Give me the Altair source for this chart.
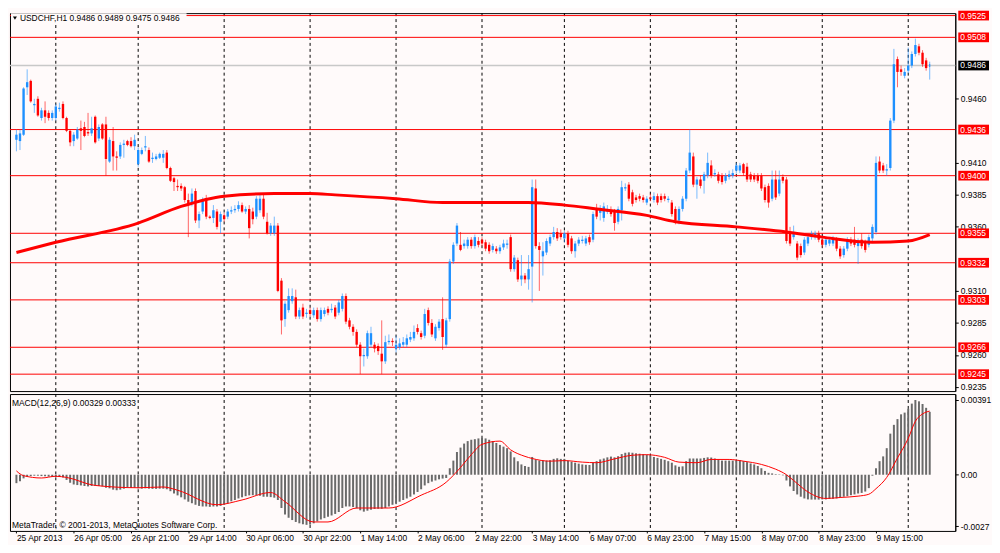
import altair as alt
import pandas as pd

# ---------------- data (prices in 1/10000) ----------------
bar_open = [
9428,9427,9432,9469,9474,9455,9460,9445,9451,9449,9445,9445,9452,9456,9445,9435,9427,9429,9437,9438,
9434,9433,9446,9429,9440,9440,9411,9427,9415,9415,9424,9427,9427,9423,9409,9417,9422,9420,9413,9413,
9414,9414,9418,9406,9398,9392,9392,9391,9381,9378,9388,9365,9372,9381,9368,9367,9372,9364,9369,9368,
9372,9373,9374,9377,9372,9374,9372,9368,9373,9382,9364,9355,9355,9361,9318,9288,9295,9302,9305,9290,
9297,9292,9295,9291,9295,9288,9292,9296,9295,9297,9293,9296,9306,9287,9282,9278,9268,9259,9259,9268,
9268,9267,9261,9255,9270,9271,9265,9266,9268,9268,9272,9273,9281,9277,9275,9295,9285,9273,9281,9288,
9268,9288,9333,9347,9346,9345,9345,9350,9345,9349,9350,9348,9346,9342,9343,9341,9344,9346,9352,9327,
9334,9319,9322,9319,9329,9390,9345,9337,9340,9347,9352,9356,9355,9351,9355,9351,9341,9347,9349,9347,
9352,9350,9374,9371,9367,9372,9373,9372,9364,9373,9390,9393,9387,9383,9384,9383,9379,9383,9381,9384,
9384,9384,9381,9379,9374,9365,9374,9382,9404,9415,9393,9397,9396,9400,9408,9401,9401,9400,9396,9399,
9400,9404,9404,9409,9407,9401,9400,9400,9400,9391,9392,9382,9397,9386,9399,9397,9356,9352,9347,9345,
9340,9347,9352,9352,9355,9350,9346,9347,9347,9350,9343,9338,9343,9350,9350,9345,9350,9348,9346,9351,
9356,9411,9408,9404,9406,9443,9491,9483,9478,9482,9486,9495,9501,9496,9490,9486]
bar_close = [
9432,9433,9468,9473,9458,9456,9447,9451,9446,9445,9449,9454,9453,9445,9435,9426,9432,9436,9435,9431,
9433,9437,9426,9438,9429,9413,9428,9415,9414,9424,9425,9424,9423,9428,9420,9420,9423,9411,9414,9415,
9417,9417,9406,9396,9395,9391,9390,9381,9378,9386,9365,9370,9381,9368,9367,9373,9360,9370,9366,9372,
9373,9374,9377,9372,9374,9359,9366,9382,9382,9368,9355,9361,9361,9310,9287,9300,9306,9306,9290,9295,
9290,9293,9292,9295,9288,9295,9295,9293,9296,9290,9301,9306,9286,9282,9278,9268,9259,9260,9277,9277,
9265,9263,9255,9270,9271,9270,9268,9269,9270,9273,9274,9278,9278,9274,9292,9285,9276,9282,9286,9274,
9287,9333,9346,9361,9342,9347,9350,9345,9352,9346,9347,9343,9341,9345,9341,9344,9347,9347,9327,9336,
9319,9322,9319,9327,9391,9345,9342,9341,9349,9352,9356,9351,9352,9355,9346,9341,9347,9350,9350,9351,
9348,9370,9368,9374,9376,9374,9370,9363,9374,9391,9391,9382,9378,9381,9382,9381,9382,9382,9384,9379,
9381,9382,9382,9370,9365,9374,9382,9404,9418,9393,9397,9392,9401,9410,9400,9402,9396,9395,9400,9401,
9402,9408,9408,9402,9397,9397,9397,9396,9390,9381,9379,9397,9383,9397,9396,9349,9347,9356,9336,9338,
9350,9352,9355,9355,9350,9346,9350,9350,9350,9343,9337,9343,9350,9347,9346,9349,9345,9342,9352,9360,
9410,9404,9404,9405,9443,9487,9481,9481,9481,9486,9495,9502,9496,9487,9484,9486]
bar_high = [
9436,9436,9469,9483,9475,9460,9462,9453,9458,9451,9451,9456,9457,9458,9446,9436,9434,9438,9443,9442,
9449,9446,9447,9440,9441,9446,9430,9438,9419,9426,9428,9428,9430,9432,9422,9422,9431,9422,9418,9417,
9418,9420,9420,9407,9399,9397,9394,9392,9386,9390,9390,9372,9383,9385,9369,9377,9374,9372,9371,9374,
9376,9377,9380,9379,9376,9377,9375,9384,9385,9385,9371,9363,9368,9363,9320,9302,9312,9312,9311,9297,
9300,9296,9297,9297,9297,9297,9297,9298,9300,9299,9303,9308,9308,9289,9284,9280,9270,9265,9279,9282,
9270,9269,9287,9275,9276,9273,9275,9273,9274,9276,9278,9283,9284,9279,9296,9297,9288,9284,9288,9305,
9289,9335,9348,9363,9356,9350,9352,9352,9354,9352,9352,9350,9348,9347,9345,9346,9350,9350,9354,9338,
9336,9338,9324,9338,9397,9397,9348,9348,9351,9354,9360,9359,9358,9357,9357,9353,9349,9352,9353,9353,
9354,9372,9378,9377,9379,9377,9376,9374,9376,9396,9394,9395,9389,9385,9386,9385,9384,9386,9387,9386,
9386,9386,9384,9381,9376,9376,9384,9406,9436,9418,9399,9400,9403,9418,9412,9405,9403,9402,9402,9404,
9405,9410,9410,9410,9410,9403,9402,9402,9402,9393,9394,9404,9404,9404,9401,9399,9360,9361,9349,9347,
9352,9354,9357,9357,9357,9352,9352,9352,9353,9352,9345,9345,9352,9352,9360,9351,9355,9350,9354,9362,
9415,9415,9410,9409,9445,9499,9493,9486,9484,9500,9497,9507,9503,9498,9492,9489]
bar_low = [
9419,9420,9431,9463,9457,9449,9446,9443,9441,9443,9443,9443,9450,9444,9434,9423,9423,9428,9420,9430,
9431,9431,9425,9427,9428,9400,9410,9404,9404,9413,9414,9423,9422,9420,9407,9416,9419,9410,9410,9412,
9413,9410,9405,9395,9388,9388,9388,9379,9352,9376,9363,9359,9370,9366,9366,9363,9358,9355,9364,9366,
9370,9371,9372,9371,9370,9351,9362,9366,9371,9366,9354,9353,9353,9309,9276,9282,9293,9300,9288,9288,
9288,9289,9290,9289,9286,9286,9290,9291,9293,9288,9291,9294,9284,9280,9275,9266,9245,9251,9257,9266,
9262,9260,9245,9253,9268,9267,9262,9264,9266,9266,9270,9271,9276,9272,9273,9283,9274,9271,9279,9264,
9266,9286,9331,9345,9341,9343,9343,9343,9343,9344,9345,9341,9339,9340,9339,9339,9342,9343,9325,9325,
9317,9314,9316,9311,9301,9343,9310,9322,9338,9345,9350,9349,9350,9348,9344,9339,9336,9345,9347,9345,
9346,9348,9366,9365,9364,9370,9368,9357,9362,9365,9388,9380,9376,9379,9380,9379,9377,9380,9379,9377,
9379,9380,9379,9368,9362,9362,9372,9380,9402,9391,9382,9390,9386,9398,9398,9399,9394,9393,9394,9397,
9398,9402,9402,9400,9395,9395,9395,9394,9388,9379,9375,9380,9381,9384,9394,9347,9345,9350,9334,9336,
9338,9345,9350,9350,9348,9344,9344,9345,9345,9341,9335,9336,9341,9345,9344,9331,9343,9340,9344,9349,
9354,9402,9402,9400,9404,9441,9469,9478,9476,9480,9484,9493,9494,9485,9482,9475]

# MACD main line, drawn as histogram (units of 0.00001)
macd_hist = [
-44,-34,-19,-10,-7,-5,-5,-7,-8,-10,-12,-12,-10,-14,-27,-42,-51,-54,-56,-59,
-61,-59,-58,-59,-61,-68,-71,-78,-81,-78,-73,-69,-69,-68,-71,-73,-71,-73,-74,-74,
-73,-73,-76,-86,-98,-108,-118,-129,-141,-149,-157,-163,-166,-166,-168,-166,-166,-163,-157,-149,
-139,-132,-124,-118,-112,-108,-107,-108,-110,-115,-115,-117,-120,-132,-174,-208,-225,-237,-247,-254,
-259,-262,-261,-254,-244,-234,-227,-220,-213,-205,-195,-174,-166,-166,-169,-176,-186,-193,-188,-183,
-179,-178,-178,-174,-166,-157,-149,-141,-132,-124,-115,-103,-90,-76,-56,-44,-36,-30,-24,-20,
-17,34,74,119,142,163,176,183,186,190,193,190,183,176,166,156,147,139,122,91,
71,54,46,41,93,80,74,74,74,76,83,86,83,83,74,68,63,58,54,52,
51,63,71,80,85,91,95,91,97,108,115,117,115,112,110,108,105,102,93,88,
83,78,71,63,49,42,44,71,85,85,85,85,88,91,90,85,80,74,74,74,
74,76,76,71,66,59,54,46,34,20,10,7,3,2,-3,-30,-61,-85,-103,-115,
-124,-129,-130,-130,-130,-129,-129,-127,-125,-124,-120,-115,-112,-107,-103,-98,-95,-88,-70,-5,
34,71,96,139,215,261,291,316,325,345,372,391,384,370,350,329]

# MACD signal line (bar index, units of 0.00001)
signal_bars = [0, 2, 7, 11, 14, 22, 34, 41, 45, 56, 63, 71, 75, 83, 87, 95, 104, 113, 120, 124,
               127, 130, 135, 138, 142, 144, 149, 153, 158, 162, 167, 172, 176, 181, 185, 190, 194,
               199, 203, 208, 212, 215, 217, 221, 226, 230, 235, 238, 240, 243, 246, 249, 251, 253, 255]
signal_vals = [20, -5, -17, -8, -14, -56, -68, -64, -81, -157, -132, -93, -141, -247, -247, -174, -174,
               -107, -39, 38, 105, 159, 176, 130, 96, 85, 71, 74, 66, 63, 83, 102, 105, 91, 66, 63, 80,
               80, 71, 54, 29, 0, -30, -90, -124, -119, -112, -102, -73, -14, 88, 190, 280, 318, 333]

# moving average (bar index, price 1/10000)
ma_bars = [0, 11, 34, 46, 58, 72, 82, 89, 106, 119, 130, 143, 153, 162, 176, 184, 201, 215, 225, 239, 249, 255]
ma_vals = [9340, 9348, 9363, 9376, 9384, 9386, 9386, 9385, 9382, 9379, 9379, 9379, 9377, 9374, 9369,
           9364, 9360, 9356, 9352, 9348, 9349, 9354]

level_prices = [9525, 9508, 9436, 9400, 9355, 9332, 9303, 9266, 9245]
bid_price = 9486
# scale labels that are not covered by the price boxes
price_ticks = [9235, 9260, 9285, 9310, 9360, 9385, 9410, 9460]
day_start_bars = [11, 34, 58, 82, 106, 130, 153, 177, 201, 225, 249]
time_label_bars = [0, 16, 32, 48, 64, 80, 96, 112, 128, 144, 160, 176, 192, 208, 224, 240]
time_labels = ["25 Apr 2013", "26 Apr 05:00", "26 Apr 21:00", "29 Apr 14:00", "30 Apr 06:00",
               "30 Apr 22:00", "1 May 14:00", "2 May 06:00", "2 May 22:00", "3 May 14:00",
               "6 May 07:00", "6 May 23:00", "7 May 15:00", "8 May 07:00", "8 May 23:00", "9 May 15:00"]
macd_ticks = [0.00391, 0.0, -0.0027]

# ---------------- layout constants ----------------
W = 953
H_MAIN = 381
H_MACD = 138
FONT = "Liberation Sans"
FS = 8.5
BG = "#FFFAFA"
BOX_HALF = 0.00038   # half height of a price box, in price units (about 5 px)

# ---------------- frames ----------------
n = len(bar_open)
candles = pd.DataFrame({
    "i": list(range(n)),
    "open": [v / 10000 for v in bar_open],
    "close": [v / 10000 for v in bar_close],
    "high": [v / 10000 for v in bar_high],
    "low": [v / 10000 for v in bar_low],
    "dir": ["up" if c >= o else "down" for o, c in zip(bar_open, bar_close)],
})
doji = candles[candles["open"] == candles["close"]]
hist = pd.DataFrame({"i": list(range(len(macd_hist))), "v": [v / 100000 for v in macd_hist]})
sig = pd.DataFrame({"i": signal_bars, "v": [v / 100000 for v in signal_vals]})
ma = pd.DataFrame({"i": ma_bars, "p": [v / 10000 for v in ma_vals]})
levels = pd.DataFrame({"p": [v / 10000 for v in level_prices],
                       "label": ["%.4f" % (v / 10000) for v in level_prices]})
levels["top"] = levels["p"] + BOX_HALF
levels["bot"] = levels["p"] - BOX_HALF
bid = pd.DataFrame({"p": [bid_price / 10000], "label": ["%.4f" % (bid_price / 10000)]})
bid["top"] = bid["p"] + BOX_HALF
bid["bot"] = bid["p"] - BOX_HALF
days = pd.DataFrame({"i": day_start_bars})
one = pd.DataFrame({"a": [0]})

xscale = alt.Scale(domain=[-0.41, 260.76], nice=False, zero=False)
yscale = alt.Scale(domain=[0.92318, 0.95269], nice=False, zero=False)
mscale = alt.Scale(domain=[-0.002939, 0.004221], nice=False, zero=False)

yaxis = alt.Axis(orient="right", values=[v / 10000 for v in price_ticks], format=".4f",
                 tickSize=3, labelPadding=2, labelFont=FONT, labelFontSize=FS, labelColor="black",
                 tickColor="black", domainColor="black", grid=False, title=None,
                 labelFlush=False, labelOverlap=False)
maxis = alt.Axis(orient="right", values=macd_ticks,
                 labelExpr="datum.value > 0.003 ? '0.00391' : (datum.value < -0.002 ? '-0.0027' : '0.00')",
                 tickSize=3, labelPadding=2, labelFont=FONT, labelFontSize=FS, labelColor="black",
                 tickColor="black", domainColor="black", grid=False, title=None,
                 labelFlush=False, labelOverlap=False)
label_js = "[" + ",".join("'%s'" % t for t in time_labels) + "]"
xaxis = alt.Axis(values=time_label_bars, labelExpr=label_js + "[round(datum.value/16)]",
                 labelAlign="left", labelFont=FONT, labelFontSize=FS, labelColor="black",
                 tickSize=2, tickColor="black", labelPadding=1, domain=False, grid=False,
                 title=None, labelFlush=False, labelOverlap=False)


def X(f="i:Q", axis=None):
    return alt.X(f, scale=xscale, axis=axis, title=None)


def Y(f):
    return alt.Y(f, scale=yscale, axis=yaxis, title=None)


def M(f):
    return alt.Y(f, scale=mscale, axis=maxis, title=None)


color = alt.Color("dir:N", scale=alt.Scale(domain=["up", "down"], range=["#1E90FF", "#FF0000"]),
                  legend=None)

# ---------------- main pane ----------------
grid_main = alt.Chart(days).mark_rule(color="black", strokeDash=[3, 3], strokeWidth=1).encode(x=X())
lvl_lines = alt.Chart(levels).mark_rule(color="#FF0000", strokeWidth=1).encode(y=Y("p:Q"))
bid_line = alt.Chart(bid).mark_rule(color="#C8C8C8", strokeWidth=1.5).encode(y=Y("p:Q"))
wicks = alt.Chart(candles).mark_rule(strokeWidth=1, opacity=0.6).encode(
    x=X(), y=Y("low:Q"), y2="high:Q", color=color)
bodies = alt.Chart(candles).mark_bar(size=2.4, opacity=1).encode(
    x=X(), y=Y("open:Q"), y2="close:Q", color=color)
doji_t = alt.Chart(doji).mark_tick(thickness=1, size=3, opacity=1).encode(
    x=X(), y=Y("close:Q"), color=color)
ma_line = alt.Chart(ma).mark_line(color="#FF0000", strokeWidth=3, interpolate="monotone").encode(
    x=X(), y=Y("p:Q"))

title_txt = "USDCHF,H1  " + " ".join("%.4f" % (v / 10000) for v in
                                      [bar_open[-1], bar_high[-1], bar_low[-1], bar_close[-1]])
title_bg = alt.Chart(one).mark_rect(color=BG).encode(
    x=alt.value(1), x2=alt.value(178), y=alt.value(0), y2=alt.value(10))
title_tri = alt.Chart(one).mark_point(shape="triangle-down", filled=True, size=16, color="black",
                                      opacity=1).encode(x=alt.value(5), y=alt.value(5))
title = alt.Chart(one).mark_text(text=title_txt, align="left", baseline="middle", font=FONT,
                                 fontSize=FS, color="black").encode(x=alt.value(10), y=alt.value(5))

lvl_box = alt.Chart(levels).mark_rect(color="#FF0000", opacity=1).encode(
    x=alt.value(W + 3), x2=alt.value(W + 34), y=Y("top:Q"), y2="bot:Q")
lvl_txt = alt.Chart(levels).mark_text(align="left", baseline="middle", font=FONT, fontSize=FS,
                                      color="white").encode(x=alt.value(W + 5), y=Y("p:Q"), text="label:N")
bid_box = alt.Chart(bid).mark_rect(color="black", opacity=1).encode(
    x=alt.value(W + 3), x2=alt.value(W + 34), y=Y("top:Q"), y2="bot:Q")
bid_txt = alt.Chart(bid).mark_text(align="left", baseline="middle", font=FONT, fontSize=FS,
                                   color="white").encode(x=alt.value(W + 5), y=Y("p:Q"), text="label:N")

main = alt.layer(grid_main, lvl_lines, bid_line, wicks, bodies, doji_t, ma_line,
                 title_bg, title_tri, title, lvl_box, lvl_txt, bid_box, bid_txt).properties(
    width=W, height=H_MAIN)

# ---------------- MACD pane ----------------
macd_txt = "MACD(12,26,9) %.5f %.5f" % (macd_hist[-1] / 100000, signal_vals[-1] / 100000)
grid_macd = alt.Chart(days).mark_rule(color="black", strokeDash=[3, 3], strokeWidth=1).encode(
    x=X(axis=xaxis))
hist_bars = alt.Chart(hist).mark_bar(size=2, color="#6A6A6A").encode(
    x=X(axis=xaxis), y=M("v:Q"), y2=alt.datum(0))
sig_line = alt.Chart(sig).mark_line(color="#FF0000", strokeWidth=1, interpolate="monotone").encode(
    x=X(axis=xaxis), y=M("v:Q"))
macd_label = alt.Chart(one).mark_text(text=macd_txt, align="left", baseline="middle", font=FONT,
                                      fontSize=FS, color="black").encode(x=alt.value(2), y=alt.value(9))
copy_label = alt.Chart(one).mark_text(text="MetaTrader, \u00a9 2001-2013, MetaQuotes Software Corp.",
                                      align="left", baseline="middle", font=FONT, fontSize=FS,
                                      color="black").encode(x=alt.value(2), y=alt.value(H_MACD - 6))

macd = alt.layer(grid_macd, hist_bars, sig_line, macd_label, copy_label).properties(
    width=W, height=H_MACD)

chart = alt.vconcat(main, macd, spacing=3, bounds="flush").properties(
    padding=0, background=BG
).configure_view(stroke="black", strokeWidth=1, fill=BG)

chart.save("out.html", embed_options={"renderer": "svg", "actions": False})
